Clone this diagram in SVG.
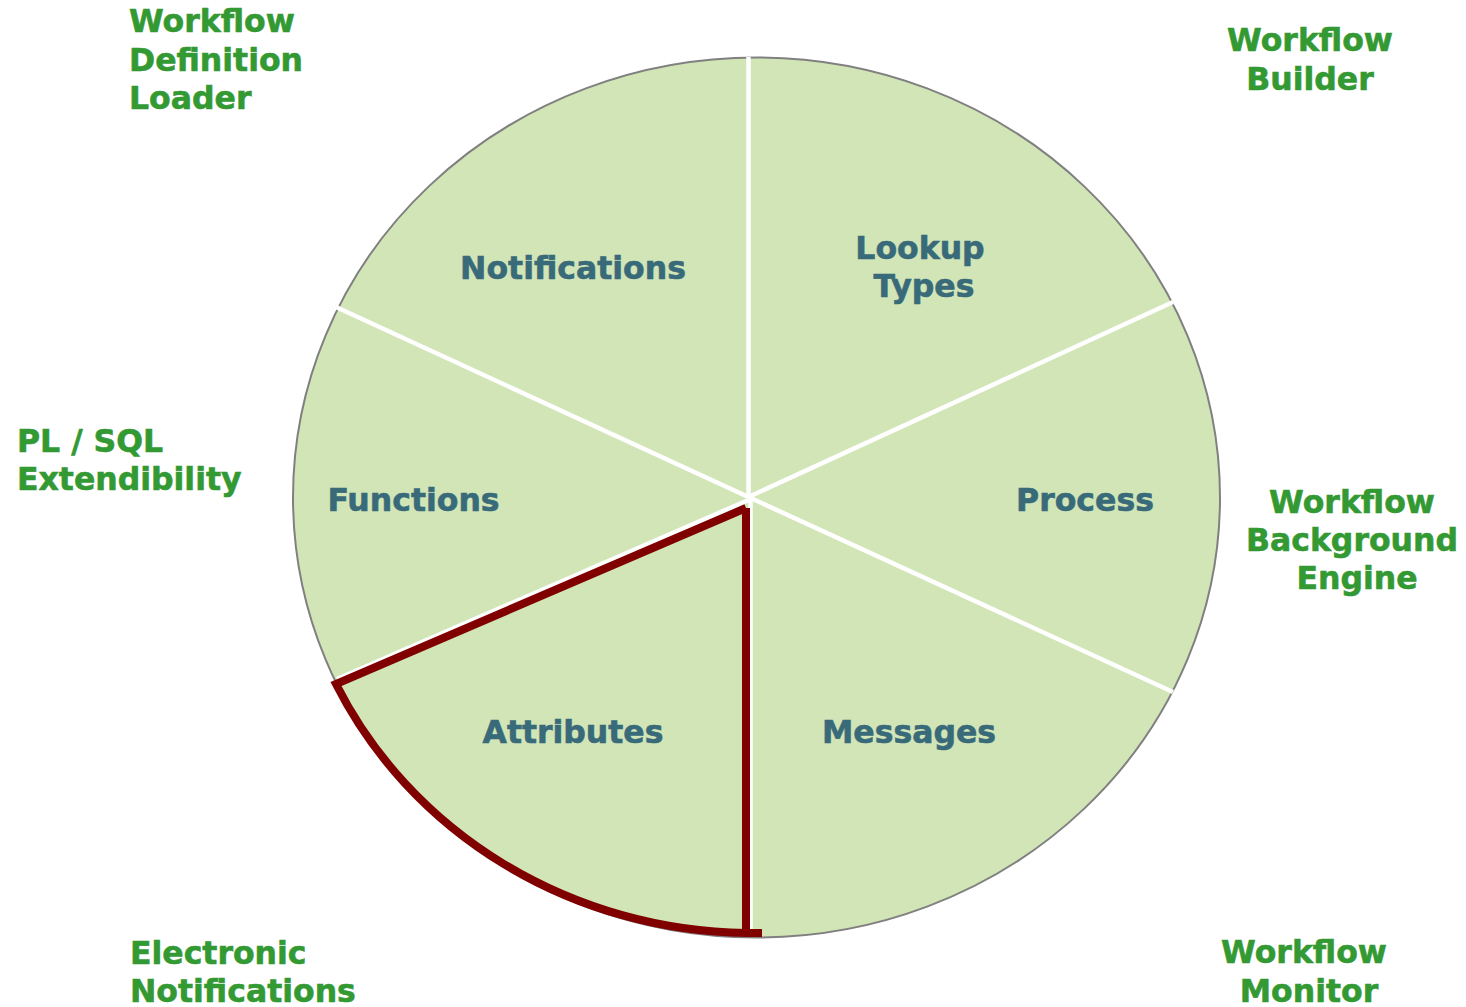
<svg xmlns="http://www.w3.org/2000/svg" width="1466" height="1007" viewBox="0 0 1466 1007">
<style>
.outer{font-family:"DejaVu Sans","Liberation Sans",sans-serif;font-weight:bold;font-size:31.5px;fill:#339933;stroke:#339933;stroke-width:0.6}
.inner{font-family:"DejaVu Sans","Liberation Sans",sans-serif;font-weight:bold;font-size:31.5px;fill:#386a7a;stroke:#386a7a;stroke-width:0.6}
.div{stroke:#ffffff;stroke-width:4.5;fill:none}
</style>
<rect width="1466" height="1007" fill="#ffffff"/>
<g id="pie">
<ellipse cx="756.5" cy="497.5" rx="463.5" ry="440" fill="#d1e5b6" stroke="#808080" stroke-width="2"/>
</g>
<g id="connectors">
<line class="div" x1="748.5" y1="497" x2="748.5" y2="57"/>
<line class="div" x1="748.5" y1="497" x2="1173" y2="302"/>
<line class="div" x1="748.5" y1="497" x2="1173" y2="692"/>
<line class="div" x1="750.5" y1="497" x2="750.5" y2="937"/>
<line class="div" x1="748.5" y1="497" x2="336" y2="307"/>
<line class="div" x1="748.5" y1="500" x2="337" y2="679"/>
</g>
<g id="highlight">
<path d="M746 508 L336 684 A462 438 0 0 0 746 933 L762 933 M746 508 L746 937" fill="none" stroke="#800000" stroke-width="8" stroke-linejoin="miter"/>
</g>
<g id="node-notifications"><text class="inner" x="573" y="279" text-anchor="middle">Notifications</text></g>
<g id="node-lookup-types"><text class="inner" x="920" y="259" text-anchor="middle">Lookup</text><text class="inner" x="924" y="297" text-anchor="middle">Types</text></g>
<g id="node-process"><text class="inner" x="1085" y="511" text-anchor="middle">Process</text></g>
<g id="node-functions"><text class="inner" x="413.5" y="511" text-anchor="middle">Functions</text></g>
<g id="node-attributes"><text class="inner" x="573" y="743" text-anchor="middle">Attributes</text></g>
<g id="node-messages"><text class="inner" x="909" y="743" text-anchor="middle">Messages</text></g>
<g id="label-wdl"><text class="outer" x="129" y="32">Workflow</text><text class="outer" x="129" y="71">Definition</text><text class="outer" x="129" y="109">Loader</text></g>
<g id="label-wb"><text class="outer" x="1310" y="51" text-anchor="middle">Workflow</text><text class="outer" x="1310" y="90" text-anchor="middle">Builder</text></g>
<g id="label-wbe"><text class="outer" x="1352" y="513" text-anchor="middle">Workflow</text><text class="outer" x="1352" y="551" text-anchor="middle">Background</text><text class="outer" x="1357" y="589" text-anchor="middle">Engine</text></g>
<g id="label-plsql"><text class="outer" x="17" y="452">PL / SQL</text><text class="outer" x="17" y="490">Extendibility</text></g>
<g id="label-en"><text class="outer" x="130" y="964">Electronic</text><text class="outer" x="130" y="1002">Notifications</text></g>
<g id="label-wm"><text class="outer" x="1304" y="963" text-anchor="middle">Workflow</text><text class="outer" x="1309" y="1002" text-anchor="middle">Monitor</text></g>
</svg>
